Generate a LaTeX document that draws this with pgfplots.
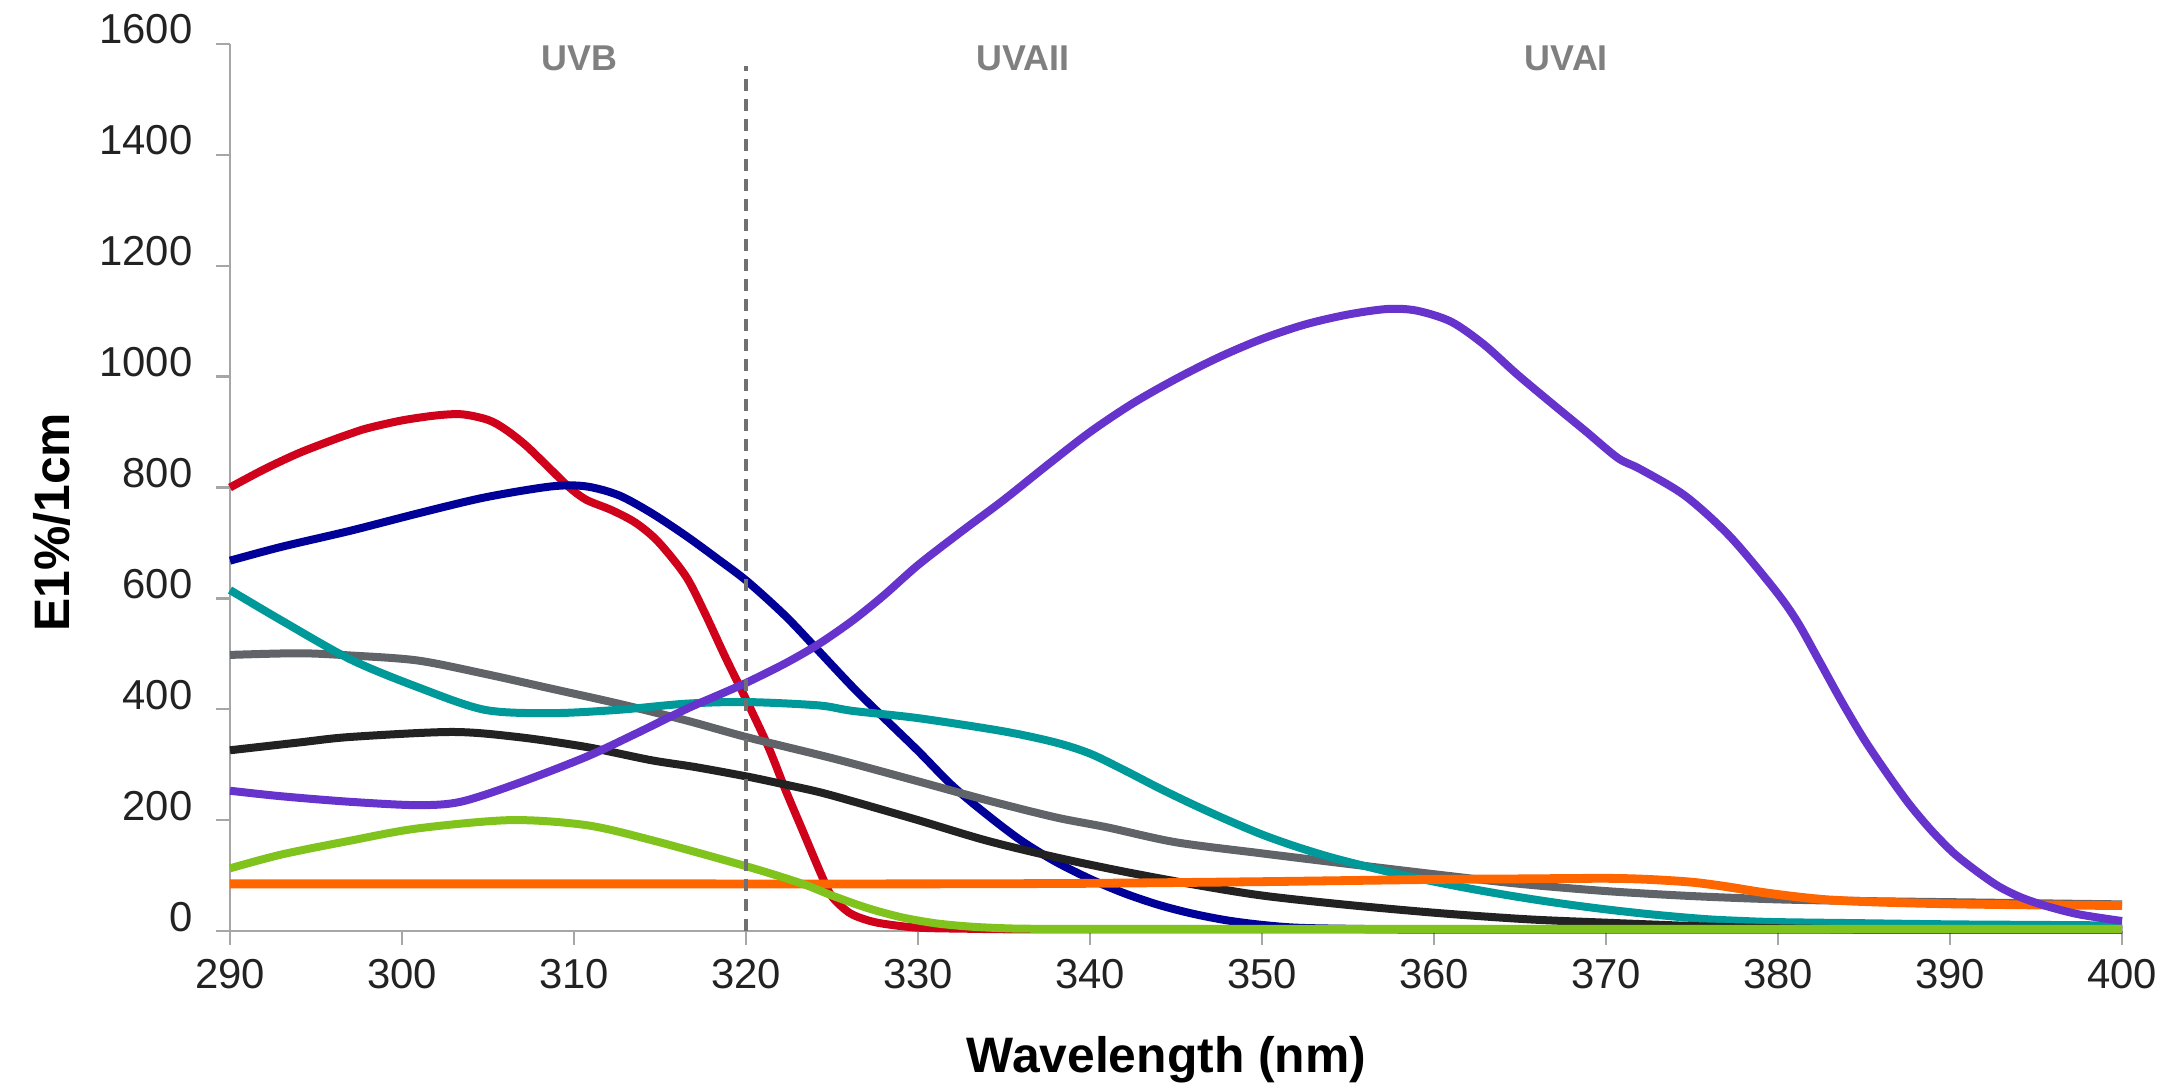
\documentclass[border=0pt]{standalone}
\usepackage{fontspec}
\setmainfont{Liberation Sans}
\usepackage{pgfplots}
\pgfplotsset{compat=1.18}
\definecolor{cRed}{HTML}{D0021B}
\definecolor{cNavy}{HTML}{000099}
\definecolor{cPurple}{HTML}{6633CC}
\definecolor{cTeal}{HTML}{009999}
\definecolor{cGray}{HTML}{606468}
\definecolor{cBlack}{HTML}{222222}
\definecolor{cGreen}{HTML}{7FC31C}
\definecolor{cOrange}{HTML}{FF6600}
\definecolor{axisgray}{HTML}{A6A6A6}
\definecolor{labelgray}{HTML}{222222}
\definecolor{bandgray}{HTML}{808080}
\definecolor{dashgray}{HTML}{707070}
\begin{document}
\begin{tikzpicture}
\useasboundingbox (-57.5bp,-38.75bp) rectangle (483.75bp,232.75bp);
\begin{axis}[
  at={(0,0)}, anchor=south west,
  scale only axis, width=473bp, height=221.75bp,
  xmin=290, xmax=400, ymin=0, ymax=1600,
  xtick={290,300,...,400}, ytick={0,200,...,1600},
  axis x line*=bottom, axis y line*=left,
  axis line style={draw=axisgray, line width=0.6bp},
  tick style={draw=axisgray, line width=0.6bp},
  tick align=outside, major tick length=3.5bp,
  ticklabel style={font=\fontsize{10.5}{12}\selectfont, text=labelgray},
  /pgf/number format/assume math mode=true,
  /pgf/number format/1000 sep={},
  yticklabel style={anchor=base east, xshift=-2.4bp},
  clip=false,
  xlabel={Wavelength (nm)}, ylabel={E1\%/1cm},
  label style={font=\fontsize{12.5}{14}\selectfont\bfseries, inner sep=0pt},
  xlabel style={at={(axis description cs:0.495,-0.1454)}, anchor=center},
  ylabel style={at={(axis description cs:-0.0941,0.461)}, anchor=center},
  every axis plot/.append style={line width=2bp, smooth, tension=0.5},
]
% red
\addplot[cRed] coordinates {(290,800) (292,833) (294,862) (296,886) (297,897) (298,907) (300,921) (302,930) (303.5,932) (305,922) (306,905) (307.2,876) (308.7,831) (309.7,801) (310.7,778) (312.2,759) (313.6,736) (314.9,702) (316.5,640) (317.6,574) (318.8,494) (320,418) (321.3,332) (322.3,254) (323.2,188) (324.4,100) (325,62) (326,33) (327,20) (328,13) (330,6) (333,4) (336,3) (345,3) (360,3) (380,3) (400,3)};
% navy
\addplot[cNavy] coordinates {(290,668) (293,693) (297,722) (300.9,753) (304.8,782) (308.7,802) (310.7,802) (312.6,786) (314.5,754) (316.5,713) (318.4,670) (320.1,630) (322.3,568) (324.2,506) (326.2,440) (328,385) (330,325) (332,262) (334,210) (336,163) (338,125) (340,94) (342,68) (344,47) (346,31) (348,19) (350,11) (352,6) (355,4) (360,3) (380,3) (400,3)};
% gray
\addplot[cGray] coordinates {(290,498) (294,501) (297,497) (300.9,488) (304.8,464) (308.7,437) (312.6,410) (316.5,380) (320,350) (324.2,318) (326.2,302) (330,270) (334,236) (338,205) (341,187) (345,160) (350,140) (355,121) (360.4,101) (365,85) (370,72) (375,63) (380,57) (385,54) (390,52) (395,50) (400,48)};
% teal
\addplot[cTeal] coordinates {(290,615) (293,560) (297,490) (300.9,440) (304.8,399) (308.7,393) (312.6,399) (316.5,410) (320,413) (324.2,407) (326.2,397) (330,384) (335,360) (338,340) (340,320) (342,290) (344,258) (346,228) (348,200) (350,174) (352,152) (354,133) (356,117) (358,102) (360,89) (362,77) (364,66) (366,56) (368,47) (370,39) (372,32) (374,26) (376,21) (378,18) (380,16) (385,14) (390,12) (395,11) (400,10)};
% black
\addplot[cBlack] coordinates {(290,326) (294,340) (297,350) (302.9,359) (306.7,350) (310.7,332) (314.5,308) (317,296) (320,279) (322,266) (324.2,251) (326.2,234) (330,200) (334,163) (338,133) (342,107) (346,84) (350,64) (355,47) (360.4,32) (365.5,21) (370,15) (373.3,11) (376,8) (380,5) (385,3) (390,3) (400,3)};
% orange
\addplot[cOrange, line width=2.2bp] coordinates {(290,85) (310,85) (330,85) (340,86) (350,89) (355,91) (360,93) (365,94) (370,95) (372.5,93) (375,88) (377,80) (379,70) (381,62) (383,56) (386,52) (390,49) (395,47) (400,46)};
% purple
\addplot[cPurple] coordinates {(290,253) (293,243) (297,233) (300.9,227) (303.4,233) (306.7,266) (310.7,314) (313.6,356) (316.5,400) (318.5,427) (320.1,449) (322.3,483) (324.2,517) (326.2,560) (328,605) (330,660) (332.5,720) (335,778) (337.5,840) (340,900) (342.5,952) (345,996) (347.5,1035) (350,1068) (352.5,1094) (355,1112) (357.3,1122) (359,1119) (361,1099) (362.9,1058) (364.8,1005) (366.8,953) (368.8,902) (370.7,853) (372,833) (374.6,785) (377.2,712) (379.8,616) (381.1,559) (382.4,487) (383.7,414) (385,346) (386.3,286) (387.6,230) (388.9,182) (390.2,141) (391.5,109) (392.8,81) (394.1,61) (395.6,45) (397.5,30) (400,18)};
% green
\addplot[cGreen] coordinates {(290,113) (293,138) (297,163) (300.9,185) (306.3,200) (310.7,191) (314.5,164) (320.1,116) (323.2,86) (325,64) (327,42) (329,25) (331,14) (333,8) (335,5) (337,4) (345,4) (360,4) (380,4) (400,4)};
% divider
\addplot[dashgray, line width=0.9bp, dash pattern=on 3bp off 2bp, sharp plot] coordinates {(320,0) (320,1560)};
\node[font=\fontsize{9}{9}\selectfont\bfseries, text=bandgray] at (axis cs:310.3,1575) {UVB};
\node[font=\fontsize{9}{9}\selectfont\bfseries, text=bandgray] at (axis cs:336.1,1575) {UVAII};
\node[font=\fontsize{9}{9}\selectfont\bfseries, text=bandgray] at (axis cs:367.7,1575) {UVAI};
\end{axis}
\end{tikzpicture}
\end{document}
